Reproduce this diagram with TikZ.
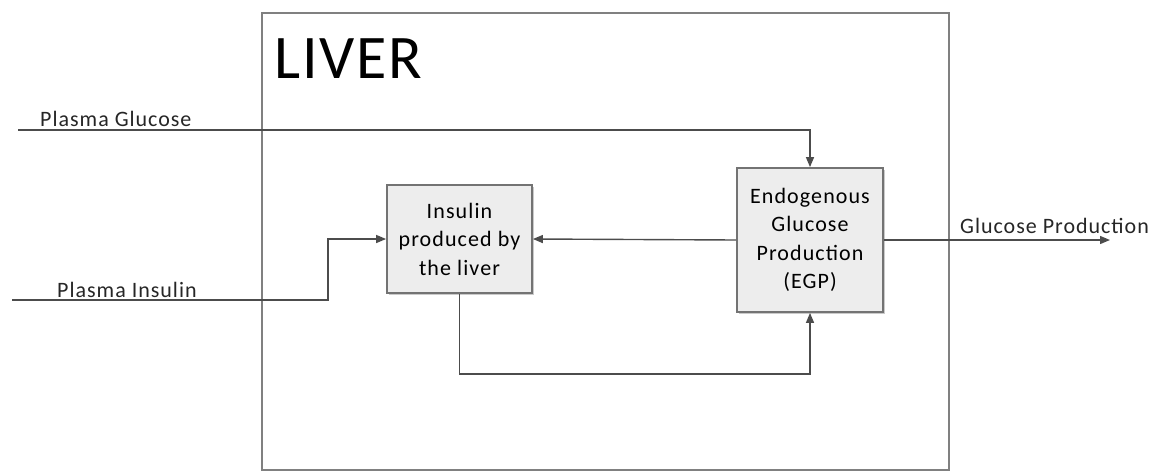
\documentclass[tikz,border=0pt]{standalone}
\usepackage{fontspec}
\setmainfont{Carlito}
\usetikzlibrary{arrows.meta,shadows}
\begin{document}
\begin{tikzpicture}[x=1pt,y=-1pt,
  arr/.style={draw=black!70,line width=1.4pt,-{Triangle[length=10pt,width=8pt]}},
  proc/.style={draw=black!55,line width=1.8pt,fill=black!7,align=center,
    font=\fontsize{22}{28.5}\selectfont\addfontfeature{LetterSpace=5},inner sep=0pt,
    drop shadow={shadow xshift=1.5pt,shadow yshift=-1.5pt,fill=black!35,opacity=0.6}},
  lbl/.style={font=\fontsize{22}{25}\selectfont\addfontfeature{LetterSpace=4.5},anchor=west,inner sep=0pt,text=black!85}]
\useasboundingbox (0,0) rectangle (1160,472);
\node[draw=black!50,line width=2pt,minimum width=687pt,minimum height=457pt,inner sep=0pt] (liver) at (605.5,241.5) {};
\node[anchor=west,inner sep=0pt,font=\fontsize{62}{64}\selectfont\addfontfeature{LetterSpace=3}] (livertxt) at (274,59) {LIVER};
\node[proc,minimum width=145pt,minimum height=108pt] (ins) at (459.5,239) {Insulin\\produced by\\the liver};
\node[proc,minimum width=146pt,minimum height=144pt] (egp) at (810,240) {Endogenous\\Glucose\\Production\\(EGP)};
\coordinate (pg) at (18,130);
\coordinate (pi) at (12,300);
\coordinate (gp) at (1110,240);
\node[lbl] (pgtxt) at (40,119) {Plasma Glucose};
\node[lbl] (pitxt) at (57,290) {Plasma Insulin};
\node[lbl] (gptxt) at (960,226) {Glucose Production};
\draw[arr] (pg) -| (egp.north);
\draw[arr] (pi) -- (328,300) -- (328,239) -- (ins.west);
\draw[arr] (egp.west) -- (ins.east);
\draw[arr] (ins.south) -- ++(0,80) -| (egp.south);
\draw[arr] (egp.east) -- (gp);
\end{tikzpicture}
\end{document}
